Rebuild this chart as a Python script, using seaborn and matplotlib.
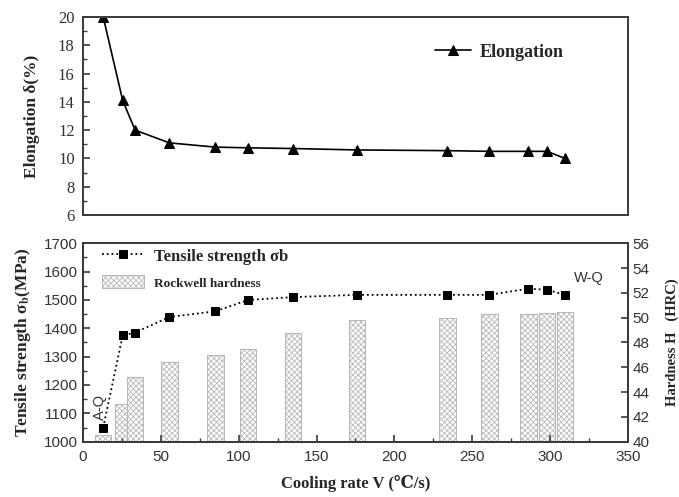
import matplotlib
matplotlib.use("Agg")
import matplotlib.pyplot as plt
import seaborn as sns
import numpy as np
import pandas as pd
from matplotlib.ticker import MultipleLocator

# ---- data ----
cooling_rate = [13, 25.5, 33.5, 55.5, 85, 106, 135, 176, 234, 261, 286, 298, 309.5]
elongation = [20.0, 14.1, 12.0, 11.1, 10.8, 10.75, 10.7, 10.6, 10.55, 10.5, 10.5, 10.5, 10.0]
tensile = [1050, 1375, 1385, 1440, 1460, 1500, 1510, 1518, 1518, 1518, 1540, 1536, 1518]
hardness = [40.5, 43.0, 45.2, 46.4, 47.0, 47.5, 48.8, 49.8, 50.0, 50.3, 50.3, 50.35, 50.45]

x_ticks = [0, 50, 100, 150, 200, 250, 300, 350]
elong_ticks = [6, 8, 10, 12, 14, 16, 18, 20]
tensile_ticks = [1000, 1100, 1200, 1300, 1400, 1500, 1600, 1700]
hard_ticks = [40, 42, 44, 46, 48, 50, 52, 54, 56]

df = pd.DataFrame({"V": cooling_rate, "elong": elongation,
                   "ts": tensile, "hrc": hardness})

sns.set_theme(style="white")
plt.rcParams["font.family"] = ["Liberation Serif", "DejaVu Serif"]
plt.rcParams["hatch.linewidth"] = 0.6
plt.rcParams["mathtext.fontset"] = "stix"

SERIF = ["Liberation Serif", "DejaVu Serif", "DejaVu Sans"]
SANS = ["Liberation Sans", "DejaVu Sans"]
SPINE = "#3a3a3a"

fig = plt.figure(figsize=(6.79, 4.97), dpi=100)
ax_top = fig.add_axes([0.1222, 0.5674, 0.8027, 0.3984])
ax_bot = fig.add_axes([0.1222, 0.1113, 0.8027, 0.3992])
ax_h = ax_bot.twinx()

for a in (ax_top, ax_bot, ax_h):
    for s in a.spines.values():
        s.set_color(SPINE)
        s.set_linewidth(1.4)

# ---- top panel: elongation ----
sns.lineplot(data=df, x="V", y="elong", ax=ax_top, color="black", marker="^",
             markersize=7, linewidth=1.2, markeredgecolor="black",
             label="Elongation")
ax_top.set_xlim(0, 350)
ax_top.set_ylim(6, 20)
ax_top.set_yticks(elong_ticks)
ax_top.yaxis.set_minor_locator(MultipleLocator(1))
ax_top.set_xticks([])
ax_top.set_xlabel("")
ax_top.set_ylabel("Elongation δ(%)", fontsize=12.5, fontweight="bold",
                  family=SERIF, labelpad=13)
ax_top.tick_params(axis="y", which="major", direction="in", length=5,
                   width=1.2, color=SPINE, labelsize=12, pad=6, left=True,
                   labelfontfamily="Liberation Serif", labelcolor="#333333")
ax_top.tick_params(axis="y", which="minor", direction="in", length=3,
                   width=1.0, color=SPINE, left=True)
leg = ax_top.legend(loc="center left", bbox_to_anchor=(0.645, 0.823),
                    frameon=False, borderpad=0, borderaxespad=0,
                    handlelength=2.0, handletextpad=0.5,
                    prop={"family": SERIF, "weight": "bold", "size": 13})

# ---- bottom panel ----
ax_h.bar(cooling_rate, [h - 40 for h in hardness], bottom=40, width=10.5,
         facecolor="white", edgecolor="#b8b8b8", linewidth=0.8,
         hatch="xxxxxx", label="Rockwell hardness")
ax_h.set_ylim(40, 56)
ax_h.set_yticks(hard_ticks)
ax_h.set_ylabel("Hardness H   (HRC)", fontsize=10.5, fontweight="bold",
                family=SERIF, labelpad=12)
ax_h.tick_params(axis="y", direction="in", length=5, width=1.2, color=SPINE,
                 labelsize=11, pad=3, right=True,
                 labelfontfamily="Liberation Sans", labelcolor="#333333")

ax_bot.set_zorder(ax_h.get_zorder() + 1)
ax_bot.patch.set_visible(False)
sns.lineplot(data=df, x="V", y="ts", ax=ax_bot, color="black", marker="s",
             markersize=6, linewidth=1.3, linestyle=":",
             markeredgecolor="black", label="Tensile strength σb")
ax_bot.set_xlim(0, 350)
ax_bot.set_ylim(1000, 1700)
ax_bot.set_xticks(x_ticks)
ax_bot.set_yticks(tensile_ticks)
ax_bot.xaxis.set_minor_locator(MultipleLocator(25))
ax_bot.yaxis.set_minor_locator(MultipleLocator(50))
ax_bot.set_xlabel("Cooling rate V (℃/s)", fontsize=12, fontweight="bold",
                  family=SERIF, labelpad=8)
ax_bot.set_ylabel(r"Tensile strength σ$_\mathbf{b}$(MPa)", fontsize=12.5,
                  fontweight="bold", family=SERIF, labelpad=8)
ax_bot.tick_params(axis="both", which="major", direction="in", length=5,
                   width=1.2, color=SPINE, labelsize=11, bottom=True,
                   left=True, labelfontfamily="Liberation Sans",
                   labelcolor="#333333")
ax_bot.tick_params(axis="both", which="minor", direction="in", length=3,
                   width=1.0, color=SPINE, bottom=True, left=True)
ax_bot.tick_params(axis="x", pad=6)

ax_bot.text(325, 1578, "W-Q", fontsize=10.5, family=SANS, color="#333333",
            ha="center", va="center")
ax_bot.text(11, 1124, "A-Q", fontsize=10.5, family=SANS, color="#333333",
            ha="center", va="center", rotation=90)

h1, l1 = ax_bot.get_legend_handles_labels()
h2, l2 = ax_h.get_legend_handles_labels()
leg2 = ax_bot.legend(h1 + h2, l1 + l2, loc="upper left",
                     bbox_to_anchor=(0.035, 0.975), frameon=False,
                     borderpad=0, borderaxespad=0, handlelength=2.5,
                     handleheight=0.85, handletextpad=0.6, labelspacing=0.6,
                     prop={"family": SERIF, "weight": "bold", "size": 12})
leg2.get_texts()[1].set_fontsize(9.5)
if ax_h.get_legend() is not None:
    ax_h.get_legend().remove()

fig.savefig("out.png", dpi=100)
